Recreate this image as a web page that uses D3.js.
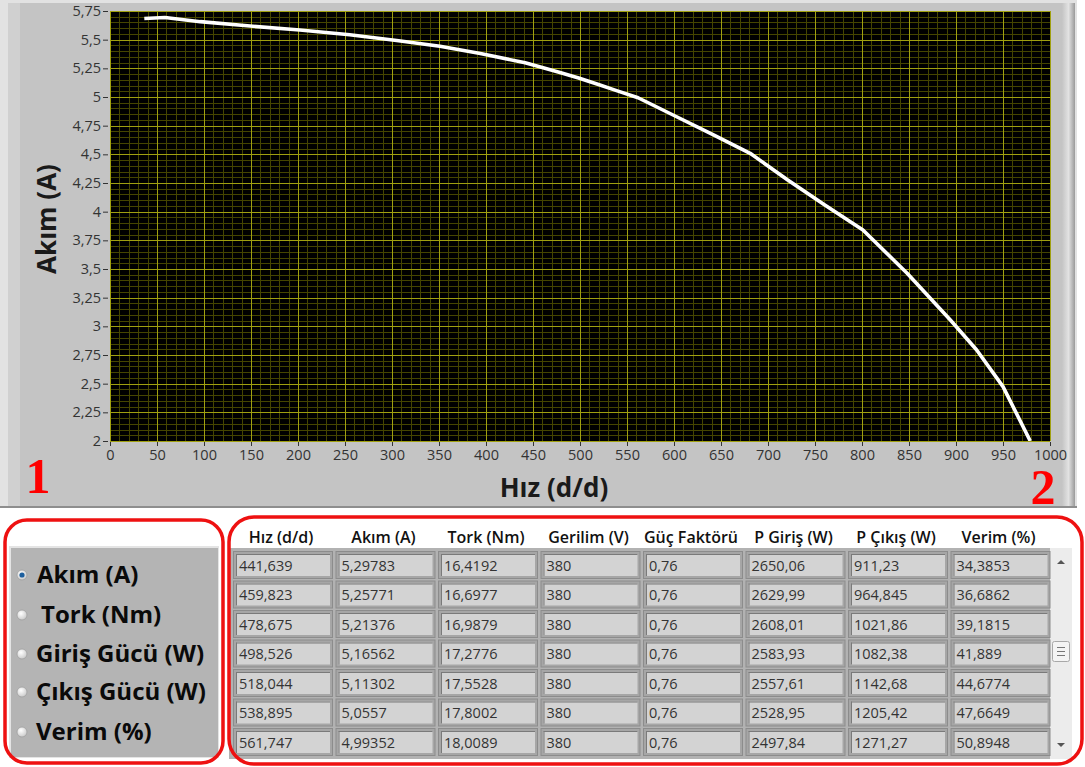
<!DOCTYPE html>
<html><head><meta charset="utf-8">
<script src="https://cdn.jsdelivr.net/npm/d3@7"></script>
<style>html,body{margin:0;padding:0;background:#fff;} svg{display:block;}</style>
</head><body><svg id="c" width="1085" height="767"></svg>
<script>
// ---- data ----
const speed   = [36.5, 58.5, 96, 149, 202, 255, 305, 351, 394, 441.639, 459.823, 478.675, 498.526, 518.044, 538.895, 561.747, 599, 642, 681, 721, 760, 801, 848, 894, 922, 950, 979];
const current = [5.685, 5.693, 5.657, 5.619, 5.584, 5.543, 5.493, 5.442, 5.38, 5.29783, 5.25771, 5.21376, 5.16562, 5.11302, 5.0557, 4.99352, 4.843, 4.669, 4.509, 4.276, 4.06, 3.84, 3.463, 3.055, 2.794, 2.474, 2.0];
const xTicks = [0,50,100,150,200,250,300,350,400,450,500,550,600,650,700,750,800,850,900,950,1000];
const yTicks = [2,2.25,2.5,2.75,3,3.25,3.5,3.75,4,4.25,4.5,4.75,5,5.25,5.5,5.75];
const xTitle = "Hız (d/d)";
const yTitle = "Akım (A)";
const radioLabels = ["Akım (A)", "Tork (Nm)", "Giriş Gücü (W)", "Çıkış Gücü (W)", "Verim (%)"];
const tableHeaders = ["Hız (d/d)", "Akım (A)", "Tork (Nm)", "Gerilim (V)", "Güç Faktörü", "P Giriş (W)", "P Çıkış (W)", "Verim (%)"];
const colHiz     = ["441,639","459,823","478,675","498,526","518,044","538,895","561,747"];
const colAkim    = ["5,29783","5,25771","5,21376","5,16562","5,11302","5,0557","4,99352"];
const colTork    = ["16,4192","16,6977","16,9879","17,2776","17,5528","17,8002","18,0089"];
const colGerilim = ["380","380","380","380","380","380","380"];
const colGuc     = ["0,76","0,76","0,76","0,76","0,76","0,76","0,76"];
const colPGiris  = ["2650,06","2629,99","2608,01","2583,93","2557,61","2528,95","2497,84"];
const colPCikis  = ["911,23","964,845","1021,86","1082,38","1142,68","1205,42","1271,27"];
const colVerim   = ["34,3853","36,6862","39,1815","41,889","44,6774","47,6649","50,8948"];
const tableCols = [colHiz, colAkim, colTork, colGerilim, colGuc, colPGiris, colPCikis, colVerim];

const FONT = "'Open Sans', 'Noto Sans', sans-serif";
const svg = d3.select("#c");
svg.append("rect").attr("width",1085).attr("height",767).attr("fill","#fff");

// ---- top panel ----
const defs = svg.append("defs");
const rg = defs.append("linearGradient").attr("id","rightEdge").attr("x1","0").attr("x2","1");
rg.append("stop").attr("offset","0").attr("stop-color","#c4c4c4");
rg.append("stop").attr("offset","0.5").attr("stop-color","#e2e2e2");
rg.append("stop").attr("offset","1").attr("stop-color","#9a9a9a");
svg.append("rect").attr("x",0).attr("y",0).attr("width",1077).attr("height",508).attr("fill","#e2e2e2");
svg.append("rect").attr("x",8).attr("y",3).attr("width",1067).attr("height",503).attr("fill","#c4c4c4");
svg.append("rect").attr("x",8).attr("y",3).attr("width",12).attr("height",503).attr("fill","#d0d0d0");
svg.append("rect").attr("x",1062).attr("y",3).attr("width",13).attr("height",503).attr("fill","url(#rightEdge)");
svg.append("rect").attr("x",0).attr("y",506).attr("width",1077).attr("height",2).attr("fill","#8e8e8e");

const x = d3.scaleLinear().domain([0,1000]).range([110,1050]);
const y = d3.scaleLinear().domain([2,5.75]).range([441,11]);
const fmt = d => String(d).replace(".", ",");

svg.append("rect").attr("x",x(0)).attr("y",y(5.75)).attr("width",x(1000)-x(0)).attr("height",y(2)-y(5.75)).attr("fill","#000");

const grid = svg.append("g");
const minorX = d3.range(0, 1001, 10).filter(v => v % 50 !== 0);
const minorY = d3.range(0, 76, 1).map(i => 2 + i*0.05).filter((v,i) => i % 5 !== 0);
const MINOR = "#454500", MAJOR = "#a0a010";
grid.selectAll(".mx").data(minorX).join("line")
  .attr("x1", d => Math.round(x(d))+0.5).attr("x2", d => Math.round(x(d))+0.5)
  .attr("y1", y(5.75)).attr("y2", y(2)).attr("stroke",MINOR).attr("stroke-width",1);
grid.selectAll(".my").data(minorY).join("line")
  .attr("y1", d => Math.round(y(d))+0.5).attr("y2", d => Math.round(y(d))+0.5)
  .attr("x1", x(0)).attr("x2", x(1000)).attr("stroke",MINOR).attr("stroke-width",1);
grid.selectAll(".Mx").data(xTicks).join("line")
  .attr("x1", d => Math.round(x(d))+0.5).attr("x2", d => Math.round(x(d))+0.5)
  .attr("y1", y(5.75)).attr("y2", y(2)).attr("stroke",MAJOR).attr("stroke-width",1);
grid.selectAll(".My").data(yTicks).join("line")
  .attr("y1", d => Math.round(y(d))+0.5).attr("y2", d => Math.round(y(d))+0.5)
  .attr("x1", x(0)).attr("x2", x(1000)).attr("stroke",MAJOR).attr("stroke-width",1);

// curve
const clip = defs.append("clipPath").attr("id","plotClip");
clip.append("rect").attr("x",x(0)).attr("y",y(5.75)).attr("width",x(1000)-x(0)).attr("height",y(2)-y(5.75));
const pts = speed.map((s,i) => [s, current[i]]);
svg.append("path").datum(pts).attr("clip-path","url(#plotClip)")
  .attr("d", d3.line().x(d => x(d[0])).y(d => y(d[1])))
  .attr("fill","none").attr("stroke","#fff").attr("stroke-width",3.6).attr("stroke-linejoin","round");

// axes
const xAxis = svg.append("g").attr("transform",`translate(0,${y(2)+1})`)
  .call(d3.axisBottom(x).tickValues(xTicks).tickFormat(fmt).tickSize(4).tickPadding(4));
const yAxis = svg.append("g").attr("transform",`translate(${x(0)-2},0)`)
  .call(d3.axisLeft(y).tickValues(yTicks).tickFormat(fmt).tickSize(5).tickPadding(2));
[xAxis, yAxis].forEach(a => {
  a.select(".domain").remove();
  a.selectAll(".tick line").attr("stroke","#333");
  a.selectAll(".tick text").attr("fill","#333").style("font-family",FONT).style("font-size","14.5px");
});

svg.append("text").text(xTitle).attr("x",554).attr("y",497).attr("text-anchor","middle")
  .style("font-family",FONT).style("font-weight","bold").style("font-size","26px").attr("fill","#1a1a1a");
svg.append("text").text(yTitle).attr("transform","translate(56,219) rotate(-90)").attr("text-anchor","middle")
  .style("font-family",FONT).style("font-weight","bold").style("font-size","26px").attr("fill","#1a1a1a");

svg.append("text").text("1").attr("x",38).attr("y",493).attr("text-anchor","middle")
  .style("font-family","'Liberation Serif', serif").style("font-weight","bold").style("font-size","50px").attr("fill","#ff0000");
svg.append("text").text("2").attr("x",1043).attr("y",504).attr("text-anchor","middle")
  .style("font-family","'Liberation Serif', serif").style("font-weight","bold").style("font-size","50px").attr("fill","#ff0000");

// ---- radio panel ----
svg.append("rect").attr("x",9).attr("y",546).attr("width",210).attr("height",212).attr("fill","#e4e4e4");
svg.append("rect").attr("x",11).attr("y",548).attr("width",207).attr("height",209).attr("fill","#b4b4b4");
const rgrad = defs.append("radialGradient").attr("id","radioG").attr("cx","0.4").attr("cy","0.35").attr("r","0.7");
rgrad.append("stop").attr("offset","0").attr("stop-color","#ffffff");
rgrad.append("stop").attr("offset","1").attr("stop-color","#c8c8c8");
const radioY = [583, 623, 662, 700, 740];
const radioX = [37, 41, 36, 36, 36];
const rp = svg.append("g");
radioLabels.forEach((lab,i) => {
  rp.append("circle").attr("cx",22).attr("cy",radioY[i]-8).attr("r",5).attr("fill","url(#radioG)").attr("stroke","#a0a0a0").attr("stroke-width",0.8);
  if (i === 0) rp.append("circle").attr("cx",22).attr("cy",radioY[i]-8).attr("r",2.6).attr("fill","#1d5f9e");
  rp.append("text").text(lab).attr("x",radioX[i]).attr("y",radioY[i])
    .style("font-family",FONT).style("font-weight","bold").style("font-size","24px").attr("fill","#0a0a0a");
});
svg.append("rect").attr("x",5).attr("y",520).attr("width",218).attr("height",243).attr("rx",22)
  .attr("fill","none").attr("stroke","#ee1111").attr("stroke-width",3.5);

// ---- table ----
svg.append("rect").attr("x",229).attr("y",548).attr("width",822).attr("height",211).attr("fill","#b2b2b2");
svg.append("rect").attr("x",1050).attr("y",548).attr("width",22).attr("height",211).attr("fill","#ececec");
const colX = d3.range(8).map(i => 233 + i*102.5);
const rowY = d3.range(7).map(i => 551 + i*29.5);
const tb = svg.append("g");
tableHeaders.forEach((h,i) => {
  tb.append("text").text(h).attr("x",colX[i]+48).attr("y",543).attr("text-anchor","middle")
    .style("font-family",FONT).style("font-weight","600").style("font-size","16px").attr("fill","#111");
});
tableCols.forEach((col,ci) => {
  col.forEach((v,ri) => {
    const cx = colX[ci], cy = rowY[ri], w = 100, h = 28;
    tb.append("rect").attr("x",cx).attr("y",cy).attr("width",w).attr("height",h).attr("fill","#8c8c8c");
    tb.append("rect").attr("x",cx+1).attr("y",cy+1).attr("width",w-2).attr("height",h-2).attr("fill","#a6a6a6");
    tb.append("rect").attr("x",cx+3).attr("y",cy+3).attr("width",w-6).attr("height",h-6).attr("fill","#d3d3d3");
    tb.append("line").attr("x1",cx+3).attr("x2",cx+w-3).attr("y1",cy+3.5).attr("y2",cy+3.5).attr("stroke","#7a7a7a");
    tb.append("line").attr("x1",cx+3.5).attr("x2",cx+3.5).attr("y1",cy+3).attr("y2",cy+h-3).attr("stroke","#7a7a7a");
    tb.append("text").text(v).attr("x",cx+6).attr("y",cy+19.5)
      .style("font-family",FONT).style("font-size","14.5px").attr("fill","#333");
  });
});
// scrollbar
svg.append("path").attr("d","M1057,564 L1065,564 L1061,560 Z").attr("fill","#555");
svg.append("path").attr("d","M1057,743 L1065,743 L1061,747 Z").attr("fill","#555");
svg.append("rect").attr("x",1052.5).attr("y",641.5).attr("width",17).attr("height",20).attr("rx",2).attr("fill","#f4f4f4").attr("stroke","#a8a8a8");
[647,651,655].forEach(yy => svg.append("line").attr("x1",1057).attr("x2",1065).attr("y1",yy+0.5).attr("y2",yy+0.5).attr("stroke","#777"));

svg.append("rect").attr("x",229).attr("y",517).attr("width",853).attr("height",247).attr("rx",25)
  .attr("fill","none").attr("stroke","#ee1111").attr("stroke-width",3.5);
</script></body></html>
